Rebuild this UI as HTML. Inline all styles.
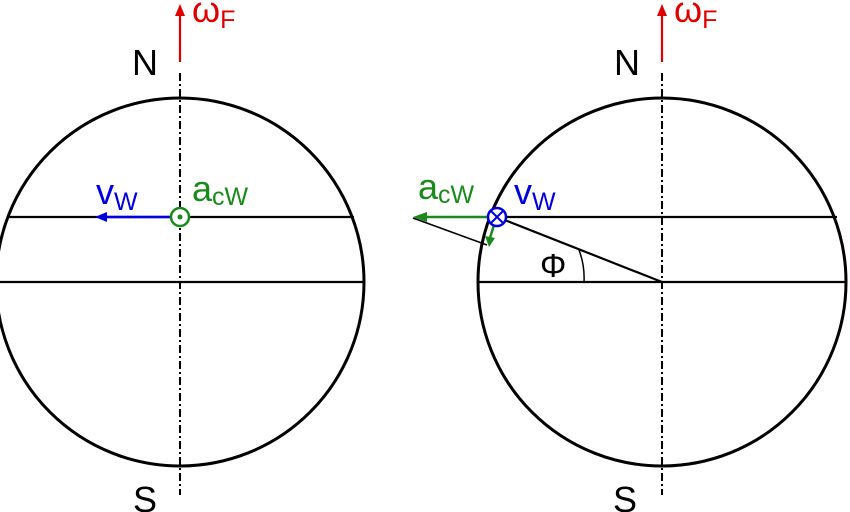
<!DOCTYPE html>
<html><head><style>body{margin:0;background:#fff}svg{display:block}</style></head><body>
<svg width="850" height="512" viewBox="0 0 850 512" xmlns="http://www.w3.org/2000/svg" font-family="Liberation Sans, sans-serif">
<g fill="none" stroke="#000" stroke-width="3">
<circle cx="180" cy="282" r="184"/>
<circle cx="662" cy="282" r="184"/>
</g>
<g stroke="#000" stroke-width="2.2">
<line x1="0" y1="282" x2="364" y2="282"/>
<line x1="8" y1="217" x2="354" y2="217"/>
<line x1="478" y1="282" x2="846" y2="282"/>
<line x1="497" y1="217" x2="837" y2="217"/>
<line x1="497" y1="217" x2="662" y2="282"/>
<line x1="413" y1="218" x2="487" y2="245" stroke-width="1.5"/>
</g>
<path d="M584,282 A78,78 0 0 0 579,250" fill="none" stroke="#000" stroke-width="1.5"/>
<g stroke="#000" stroke-width="2" stroke-dasharray="8,3,2,3">
<line x1="180" y1="73" x2="180" y2="495"/>
<line x1="662" y1="73" x2="662" y2="495"/>
</g>
<line x1="180" y1="62" x2="180" y2="14" stroke="#e00000" stroke-width="2.2"/>
<path d="M175,16 L180,4 L185,16z" fill="#e00000"/>
<line x1="662" y1="62" x2="662" y2="14" stroke="#e00000" stroke-width="2.2"/>
<path d="M657,16 L662,4 L667,16z" fill="#e00000"/>
<line x1="170" y1="217" x2="105" y2="217" stroke="#0000dd" stroke-width="2.5"/>
<path d="M107,212 L95,217 L107,222z" fill="#0000dd"/>
<circle cx="180" cy="217" r="9" fill="#fff" stroke="#1a8a1a" stroke-width="2.5"/>
<circle cx="180" cy="217" r="2.5" fill="#1a8a1a"/>
<line x1="490" y1="217" x2="425" y2="217" stroke="#1a8a1a" stroke-width="2.5"/>
<path d="M427,212 L413,217 L427,222z" fill="#1a8a1a"/>
<line x1="494" y1="225" x2="490" y2="238" stroke="#1a8a1a" stroke-width="2.5"/>
<path d="M485,236 L489,247 L495,238z" fill="#1a8a1a"/>
<circle cx="497" cy="217" r="9" fill="#fff" stroke="#0000dd" stroke-width="2.5"/>
<path d="M491,211 L503,223 M503,211 L491,223" stroke="#0000dd" stroke-width="2"/>
<g font-size="36">
<text x="132" y="75" fill="#000">N</text>
<text x="614" y="75" fill="#000">N</text>
<text x="133" y="512" fill="#000">S</text>
<text x="613" y="512" fill="#000">S</text>
<text x="192" y="22" fill="#e00000">ω<tspan font-size="25" dy="6">F</tspan></text>
<text x="674" y="22" fill="#e00000">ω<tspan font-size="25" dy="6">F</tspan></text>
<text x="96" y="204" fill="#0000dd">v<tspan font-size="25" dy="6">W</tspan></text>
<text x="514" y="204" fill="#0000dd">v<tspan font-size="25" dy="6">W</tspan></text>
<text x="192" y="201" fill="#1a8a1a">a<tspan font-size="25" dy="4">cW</tspan></text>
<text x="418" y="199" fill="#1a8a1a">a<tspan font-size="25" dy="4">cW</tspan></text>
<text x="540" y="277" fill="#000" font-size="33">Φ</text>
</g>
</svg>
</body></html>
